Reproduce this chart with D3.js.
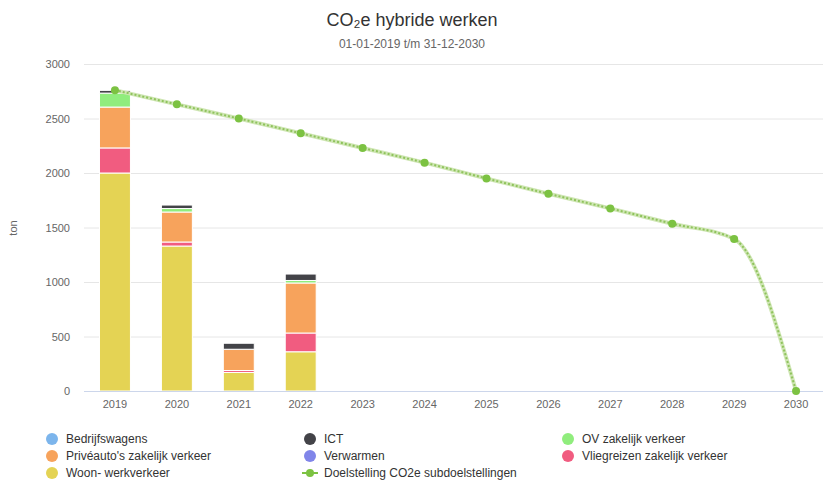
<!DOCTYPE html>
<html>
<head>
<meta charset="utf-8">
<script src="https://cdn.jsdelivr.net/npm/d3@7"></script>
<style>
  body { margin: 0; background: #fff; font-family: "Liberation Sans", Arial, sans-serif; }
  svg text { font-family: "Liberation Sans", Arial, sans-serif; }
</style>
</head>
<body>
<div id="chart"></div>
<script>
// categories and values
const years = ["2019","2020","2021","2022","2023","2024","2025","2026","2027","2028","2029","2030"];
const yTicks = [0, 500, 1000, 1500, 2000, 2500, 3000];

const bedrijfswagens = [0, 0, 0, 0, 0, 0, 0, 0, 0, 0, 0, 0];
const ict            = [25, 32, 55, 59, 0, 0, 0, 0, 0, 0, 0, 0];
const ovZakelijk     = [128, 32, 0, 23, 0, 0, 0, 0, 0, 0, 0, 0];
const priveauto      = [375, 275, 195, 459, 0, 0, 0, 0, 0, 0, 0, 0];
const verwarmen      = [0, 0, 0, 0, 0, 0, 0, 0, 0, 0, 0, 0];
const vliegreizen    = [230, 37, 18, 172, 0, 0, 0, 0, 0, 0, 0, 0];
const woonWerk       = [2000, 1330, 170, 360, 0, 0, 0, 0, 0, 0, 0, 0];
const doelstelling   = [2760, 2630, 2500, 2365, 2230, 2095, 1950, 1810, 1675, 1535, 1395, 0];

// stacked from bottom to top
const series = [
  {name: "Woon- werkverkeer", values: woonWerk, color: "#e4d354"},
  {name: "Vliegreizen zakelijk verkeer", values: vliegreizen, color: "#f15c80"},
  {name: "Verwarmen", values: verwarmen, color: "#8085e9"},
  {name: "Privéauto's zakelijk verkeer", values: priveauto, color: "#f7a35c"},
  {name: "OV zakelijk verkeer", values: ovZakelijk, color: "#90ed7d"},
  {name: "ICT", values: ict, color: "#434348"},
  {name: "Bedrijfswagens", values: bedrijfswagens, color: "#7cb5ec"}
];
const legendOrder = ["Bedrijfswagens", "ICT", "OV zakelijk verkeer", "Privéauto's zakelijk verkeer",
  "Verwarmen", "Vliegreizen zakelijk verkeer", "Woon- werkverkeer"];
const lineName = "Doelstelling CO2e subdoelstellingen";
const lineColor = "#7cc242";

const width = 823, height = 482;
const svg = d3.select("#chart").append("svg")
  .attr("width", width).attr("height", height);

const x = d3.scaleBand().domain(years).range([84, 827]);
const y = d3.scaleLinear().domain([0, 3000]).range([391, 64]);

// title
svg.append("text").attr("x", 412).attr("y", 26)
  .attr("text-anchor", "middle").style("font-size", "18px").style("fill", "#333")
  .text("CO₂e hybride werken");
svg.append("text").attr("x", 412).attr("y", 48)
  .attr("text-anchor", "middle").style("font-size", "12px").style("fill", "#666")
  .text("01-01-2019 t/m 31-12-2030");

// grid
svg.append("g").selectAll("line").data(yTicks.filter(d => d > 0)).join("line")
  .attr("x1", 84).attr("x2", 823)
  .attr("y1", d => y(d) + 0.5).attr("y2", d => y(d) + 0.5)
  .attr("stroke", "#e6e6e6");

const yAxis = d3.axisLeft(y).tickValues(yTicks).tickFormat(d3.format("d")).tickSize(0).tickPadding(0);
svg.append("g").attr("transform", "translate(70,0)").call(yAxis)
  .call(g => g.select(".domain").remove())
  .call(g => g.selectAll("text").attr("dy", "0.32em").style("font-size", "11px")
    .style("fill", "#666").style("font-family", "Liberation Sans, Arial, sans-serif"));

svg.append("text").attr("transform", "translate(17,228) rotate(-90)")
  .attr("text-anchor", "middle").style("font-size", "11px").style("fill", "#666").text("ton");

// stacked bars
const table = years.map((yr, i) => {
  const row = {year: yr};
  series.forEach(s => row[s.name] = s.values[i]);
  return row;
});
const stacked = d3.stack().keys(series.map(s => s.name))(table);
const colorOf = d3.scaleOrdinal().domain(series.map(s => s.name)).range(series.map(s => s.color));
const barW = x.bandwidth() * 0.5;

svg.append("g").selectAll("g").data(stacked).join("g")
  .attr("fill", d => colorOf(d.key))
  .selectAll("rect").data(d => d.filter(p => p[1] - p[0] > 0)).join("rect")
    .attr("x", d => x(d.data.year) + (x.bandwidth() - barW) / 2)
    .attr("y", d => y(d[1]))
    .attr("width", barW)
    .attr("height", d => y(d[0]) - y(d[1]))
    .attr("stroke", "#fff").attr("stroke-width", 1);

// x axis
svg.append("line").attr("x1", 84).attr("x2", 823).attr("y1", 391.5).attr("y2", 391.5)
  .attr("stroke", "#ccd6eb");
const xAxis = d3.axisBottom(x).tickSize(0).tickPadding(8);
svg.append("g").attr("transform", "translate(0,392)").call(xAxis)
  .call(g => g.select(".domain").remove())
  .call(g => g.selectAll("text").style("font-size", "11px").style("fill", "#666")
    .style("font-family", "Liberation Sans, Arial, sans-serif"));

// target line
const cx = d => x(d) + x.bandwidth() / 2;
const line = d3.line().x((d, i) => cx(years[i])).y(d => y(d)).curve(d3.curveMonotoneX);
svg.append("path").datum(doelstelling).attr("d", line)
  .attr("fill", "none").attr("stroke", "#cfe6b4").attr("stroke-width", 4);
svg.append("path").datum(doelstelling).attr("d", line)
  .attr("fill", "none").attr("stroke", "#8fc35c").attr("stroke-width", 2)
  .attr("stroke-dasharray", "2,2");
svg.append("g").selectAll("circle").data(doelstelling).join("circle")
  .attr("cx", (d, i) => cx(years[i])).attr("cy", d => y(d)).attr("r", 4)
  .attr("fill", lineColor);

// legend
const legendItems = legendOrder.map(n => ({name: n, color: colorOf(n), type: "dot"}))
  .concat([{name: lineName, color: lineColor, type: "line"}]);
const colX = [52, 310, 568];
const leg = svg.append("g").selectAll("g").data(legendItems).join("g")
  .attr("transform", (d, i) => `translate(${colX[i % 3]},${439 + Math.floor(i / 3) * 17})`);
leg.filter(d => d.type === "dot").append("circle").attr("r", 6).attr("fill", d => d.color);
leg.filter(d => d.type === "line").append("line").attr("x1", -8).attr("x2", 8)
  .attr("stroke", d => d.color).attr("stroke-width", 2);
leg.filter(d => d.type === "line").append("circle").attr("r", 4).attr("fill", d => d.color);
leg.append("text").attr("x", 14).attr("dy", "0.35em")
  .style("font-size", "12px").style("fill", "#333").text(d => d.name);
</script>
</body>
</html>
